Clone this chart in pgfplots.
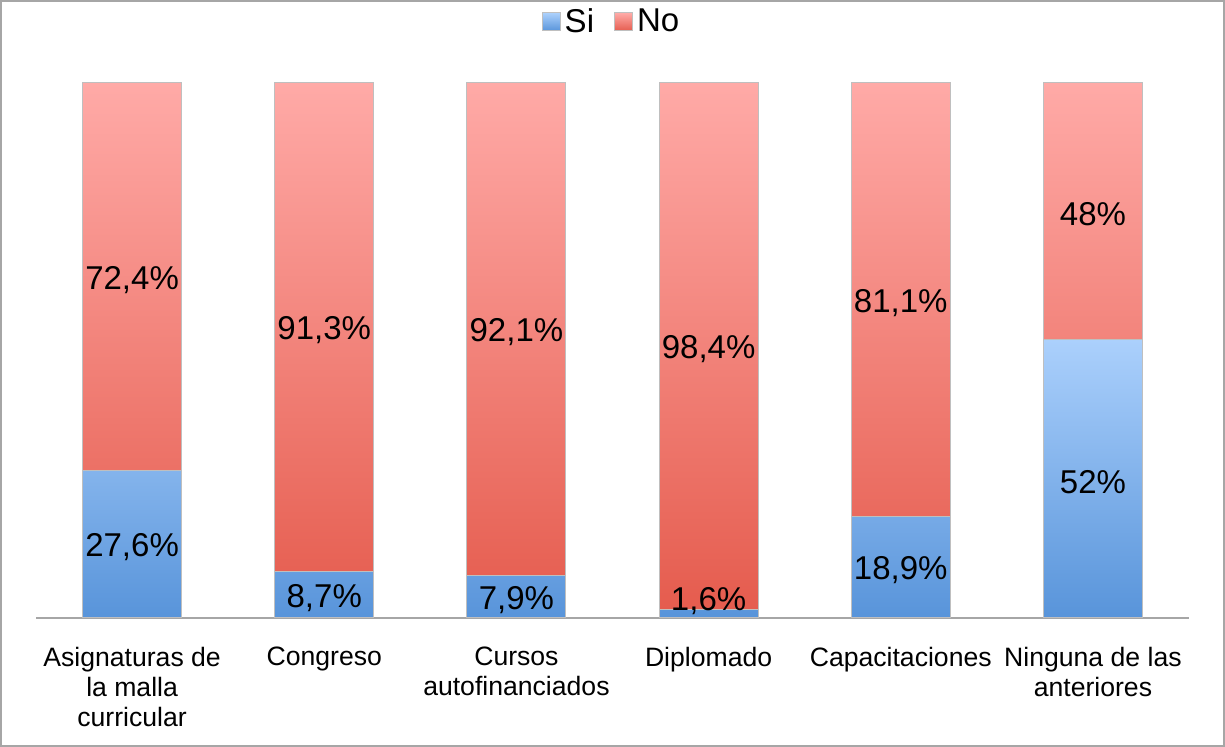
\documentclass[border=0pt]{standalone}
\usepackage{pgfplots}
\pgfplotsset{compat=1.18}
\usepackage{fontspec}
\setmainfont{Liberation Sans}
\definecolor{bluetop}{RGB}{171,208,252}
\definecolor{bluebot}{RGB}{88,148,218}
\definecolor{redtop}{RGB}{255,170,167}
\definecolor{redbot}{RGB}{229,92,78}
\begin{document}
\begin{tikzpicture}
\draw[gray!70, line width=1pt] (0.5pt,0.5pt) rectangle (612pt,373pt);
\begin{axis}[
  at={(18pt,64.5pt)}, anchor=south west,
  scale only axis, width=576.5pt, height=267.5pt,
  ybar stacked, bar width=49.5pt,
  xmin=-0.5, xmax=5.5, ymin=0, ymax=100,
  axis x line=bottom, axis y line=none,
  x axis line style={-, draw=gray!70, line width=1pt},
  xtick={0,...,5}, major tick length=0pt,
  xticklabels={{Asignaturas de\\la malla\\curricular}, Congreso, {Cursos\\autofinanciados}, Diplomado, Capacitaciones, {Ninguna de las\\anteriores}},
  xticklabel style={align=center, font=\fontsize{13.3}{15}\selectfont, yshift=-11pt},
  ytick=\empty,
  point meta=explicit symbolic,
  visualization depends on=rawy \as \rawy,
  nodes near coords,
  every node near coord/.append style={font=\fontsize{16.5}{19}\selectfont, text=black, anchor=center,
    yshift={max(0,10.2-\rawy*1.3375)-1.5}},
  legend style={at={(0.5,1.114)}, anchor=center, draw=none, fill=none, legend columns=2,
    font=\fontsize{16.5}{19}\selectfont,
    /tikz/every even column/.append style={column sep=8pt},
    nodes={inner xsep=2pt}},
]
\addplot[top color=bluetop, bottom color=bluebot, draw=black!25, line width=0.5pt,
  legend image code/.code={\shade[top color=bluetop,bottom color=bluebot] (0pt,-4.5pt) rectangle (9pt,4.5pt);}]
  coordinates {(0,27.6) [27,6\%] (1,8.7) [8,7\%] (2,7.9) [7,9\%] (3,1.6) [1,6\%] (4,18.9) [18,9\%] (5,52) [52\%]};
\addplot[top color=redtop, bottom color=redbot, draw=black!25, line width=0.5pt,
  legend image code/.code={\shade[top color=redtop,bottom color=redbot] (0pt,-4.5pt) rectangle (9pt,4.5pt);}]
  coordinates {(0,72.4) [72,4\%] (1,91.3) [91,3\%] (2,92.1) [92,1\%] (3,98.4) [98,4\%] (4,81.1) [81,1\%] (5,48) [48\%]};
\legend{Si,No}
\end{axis}
\end{tikzpicture}
\end{document}
